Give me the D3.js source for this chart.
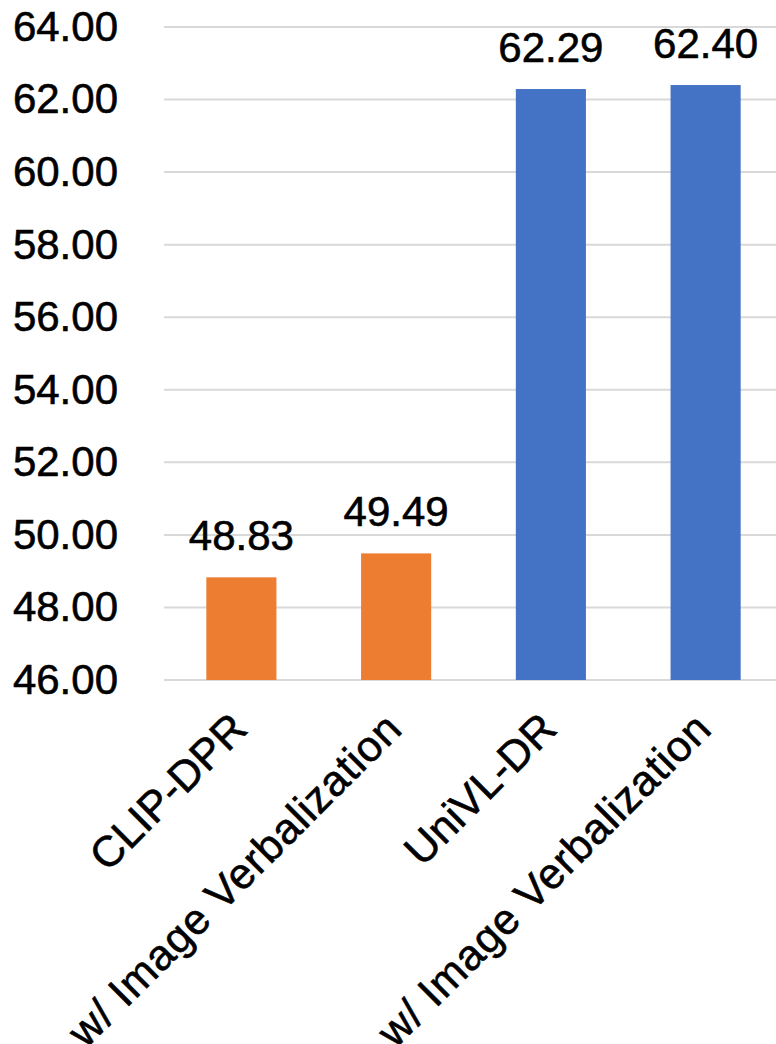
<!DOCTYPE html>
<html><head><meta charset="utf-8">
<script src="https://cdn.jsdelivr.net/npm/d3@7"></script>
<style>html,body{margin:0;padding:0;background:#fff;}svg{display:block;}</style>
</head><body>
<script>
const categories = ["CLIP-DPR", "w/ Image Verbalization", "UniVL-DR", "w/ Image Verbalization "];
const values = [48.83, 49.49, 62.29, 62.40];
const barColors = ["#ED7D31", "#ED7D31", "#4472C4", "#4472C4"];
const yTicks = [46, 48, 50, 52, 54, 56, 58, 60, 62, 64];

const W = 776, H = 1044;
const font = "'Liberation Sans', Arial, sans-serif";
const svg = d3.select("body").append("svg").attr("width", W).attr("height", H);

const y = d3.scaleLinear().domain([46, 64]).range([680, 27]);
const x = d3.scaleBand().domain(categories).range([164, 783]).paddingInner(0.547).paddingOuter(0.2735);

// gridlines
svg.append("g").selectAll("line").data(yTicks).join("line")
  .attr("x1", 164).attr("x2", 783)
  .attr("y1", d => y(d)).attr("y2", d => y(d))
  .attr("stroke", "#D9D9D9").attr("stroke-width", 2);

// y labels
svg.append("g").selectAll("text").data(yTicks).join("text")
  .attr("x", 118).attr("y", d => y(d)).attr("dy", "0.33em")
  .attr("text-anchor", "end")
  .attr("font-family", font).attr("font-size", 42).attr("fill", "#000")
  .attr("stroke", "#000").attr("stroke-width", 0.6)
  .text(d => d.toFixed(2));

// bars
svg.append("g").selectAll("rect").data(values).join("rect")
  .attr("x", (d, i) => x(categories[i]))
  .attr("width", x.bandwidth())
  .attr("y", d => y(d))
  .attr("height", d => y(46) - y(d))
  .attr("fill", (d, i) => barColors[i]);

// value labels
svg.append("g").selectAll("text").data(values).join("text")
  .attr("x", (d, i) => x(categories[i]) + x.bandwidth() / 2)
  .attr("y", d => y(d) - 27)
  .attr("text-anchor", "middle")
  .attr("font-family", font).attr("font-size", 42).attr("fill", "#000")
  .attr("stroke", "#000").attr("stroke-width", 0.6)
  .text(d => d.toFixed(2));

// x labels
svg.append("g").selectAll("text").data(categories).join("text")
  .attr("transform", d => `translate(${x(d) + x.bandwidth() / 2 + 8},731) rotate(-45)`)
  .attr("text-anchor", "end")
  .attr("font-family", font).attr("font-size", 43).attr("fill", "#000")
  .attr("stroke", "#000").attr("stroke-width", 0.6)
  .attr("letter-spacing", d => d.length > 10 ? 0.8 : 0)
  .text(d => d.trim());
</script>
</body></html>
